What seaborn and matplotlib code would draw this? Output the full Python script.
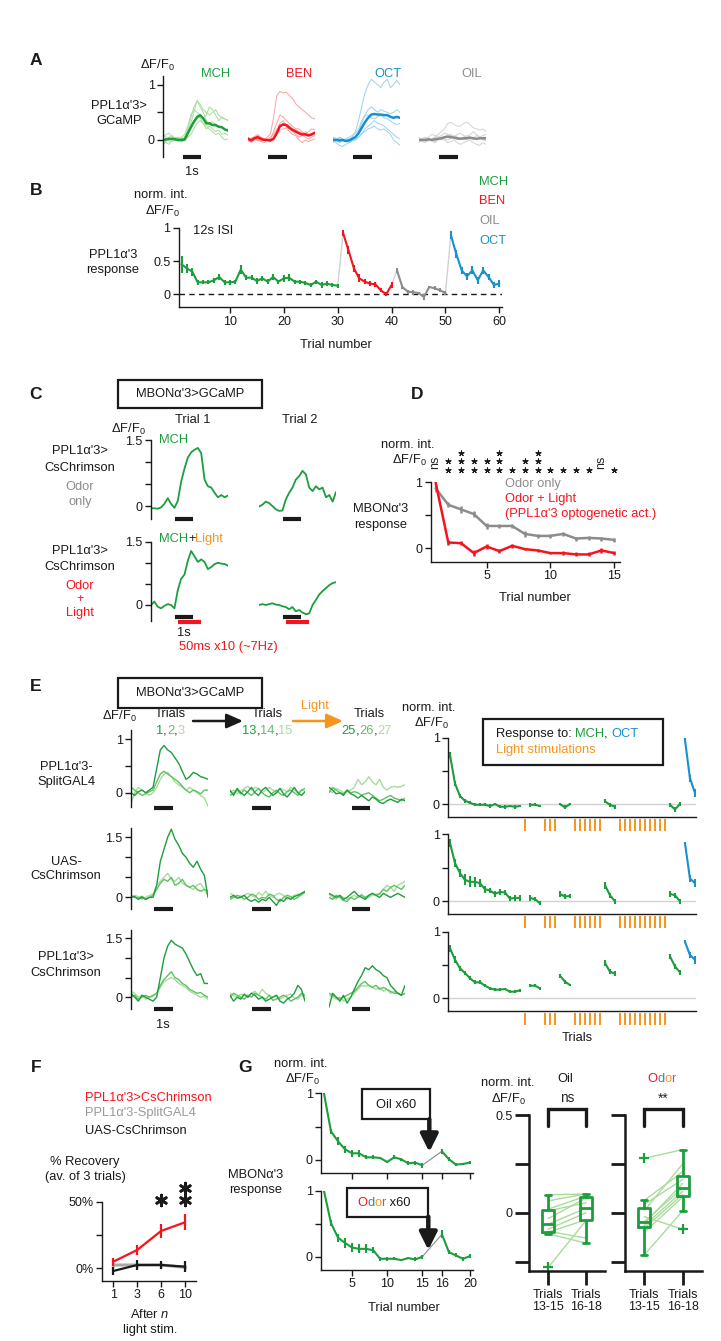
import numpy as np
import pandas as pd
import matplotlib
matplotlib.use("Agg")
import matplotlib.pyplot as plt
import seaborn as sns
from matplotlib.patches import Rectangle

# ---------------- data ----------------
# A: PPL1a'3 > GCaMP traces (mean + single flies)
mch_A_mean = [0, 0.01, 0.02, 0.02, 0.01, 0, 0, 0.01, 0.12, 0.23, 0.33, 0.41, 0.45, 0.39, 0.3, 0.3, 0.27, 0.27, 0.24, 0.23, 0.19, 0.17]
mch_A_flies = [
    [0.05, 0.1, 0.12, 0.05, 0.0, -0.02, 0.02, 0.05, 0.2, 0.4, 0.6, 0.7, 0.65, 0.55, 0.5, 0.45, 0.5, 0.55, 0.45, 0.4, 0.38, 0.35],
    [-0.05, 0.0, 0.05, 0.08, 0.02, -0.03, 0.0, 0.02, 0.15, 0.3, 0.5, 0.72, 0.6, 0.5, 0.35, 0.3, 0.33, 0.28, 0.25, 0.22, 0.2, 0.15],
    [0.1, 0.05, -0.02, 0.0, 0.03, 0.05, -0.04, 0.0, 0.08, 0.2, 0.35, 0.45, 0.4, 0.3, 0.2, 0.25, 0.2, 0.15, 0.18, 0.1, 0.12, 0.08],
    [0.0, -0.05, -0.08, 0.02, 0.05, 0.0, 0.03, -0.02, 0.05, 0.1, 0.2, 0.3, 0.35, 0.3, 0.25, 0.2, 0.15, 0.1, 0.12, 0.05, 0.0, 0.02],
    [-0.1, -0.02, 0.03, -0.03, 0.0, 0.02, 0.05, 0.1, 0.25, 0.45, 0.55, 0.5, 0.45, 0.4, 0.45, 0.6, 0.55, 0.45, 0.35, 0.42, 0.38, 0.36],
]
ben_A_mean = [0.02, -0.01, 0.03, 0.05, 0.02, 0.0, 0.0, -0.01, 0.02, 0.12, 0.25, 0.28, 0.27, 0.22, 0.18, 0.15, 0.12, 0.1, 0.1, 0.08, 0.1, 0.13]
ben_A_flies = [
    [0.0, 0.02, 0.05, 0.0, -0.03, 0.0, 0.05, 0.1, 0.4, 0.8, 0.88, 0.85, 0.87, 0.8, 0.75, 0.65, 0.6, 0.55, 0.5, 0.45, 0.4, 0.38],
    [0.05, 0.02, 0.0, 0.08, 0.05, 0.0, -0.02, 0.0, 0.15, 0.3, 0.45, 0.42, 0.35, 0.3, 0.25, 0.2, 0.2, 0.15, 0.1, 0.15, 0.2, 0.18],
    [-0.03, 0.0, 0.02, -0.02, 0.0, 0.03, 0.0, -0.03, 0.05, 0.15, 0.3, 0.35, 0.25, 0.2, 0.15, 0.1, 0.05, 0.08, 0.05, 0.02, 0.05, 0.08],
    [0.02, -0.05, 0.0, 0.02, -0.02, -0.05, 0.0, 0.02, 0.0, 0.1, 0.18, 0.2, 0.22, 0.15, 0.1, 0.08, 0.0, -0.05, 0.0, -0.03, 0.0, 0.02],
    [0.0, 0.03, 0.06, 0.1, 0.05, 0.02, 0.0, 0.05, 0.1, 0.2, 0.25, 0.3, 0.28, 0.25, 0.2, 0.18, 0.15, 0.12, 0.15, 0.1, 0.12, 0.15],
]
oct_A_mean = [0.0, 0.0, -0.01, 0.0, -0.02, -0.01, 0.02, 0.05, 0.12, 0.22, 0.32, 0.4, 0.46, 0.47, 0.46, 0.46, 0.45, 0.45, 0.42, 0.4, 0.42, 0.4]
oct_A_flies = [
    [0.02, 0.0, -0.05, 0.0, -0.03, 0.0, 0.05, 0.15, 0.35, 0.6, 0.85, 1.0, 1.1, 1.05, 1.0, 0.95, 1.05, 1.1, 0.95, 1.0, 1.08, 1.0],
    [-0.05, 0.0, 0.05, 0.02, -0.02, -0.05, 0.0, 0.05, 0.15, 0.3, 0.45, 0.55, 0.6, 0.55, 0.5, 0.55, 0.52, 0.5, 0.48, 0.5, 0.55, 0.5],
    [0.05, 0.03, 0.0, -0.02, 0.0, 0.02, 0.0, 0.0, 0.05, 0.1, 0.2, 0.25, 0.3, 0.35, 0.3, 0.28, 0.25, 0.2, 0.15, 0.1, 0.05, 0.02],
    [0.0, -0.05, -0.1, -0.12, -0.08, -0.05, -0.02, 0.0, 0.05, 0.12, 0.15, 0.2, 0.22, 0.25, 0.2, 0.18, 0.2, 0.15, 0.1, 0.0, -0.05, -0.1],
    [0.02, 0.0, 0.03, 0.0, 0.02, 0.05, 0.08, 0.12, 0.2, 0.35, 0.45, 0.45, 0.4, 0.38, 0.42, 0.45, 0.4, 0.38, 0.35, 0.3, 0.28, 0.3],
]
oil_A_mean = [0.0, 0.0, 0.0, 0.01, 0.0, 0.01, 0.02, 0.03, 0.05, 0.06, 0.05, 0.04, 0.03, 0.02, 0.03, 0.03, 0.04, 0.03, 0.02, 0.03, 0.03, 0.03]
oil_A_flies = [
    [0.0, 0.02, 0.05, 0.03, 0.0, 0.05, 0.1, 0.15, 0.2, 0.3, 0.32, 0.28, 0.25, 0.25, 0.3, 0.32, 0.28, 0.22, 0.2, 0.18, 0.2, 0.15],
    [-0.05, 0.0, 0.02, 0.05, 0.1, 0.08, 0.05, 0.08, 0.12, 0.1, 0.08, 0.05, 0.1, 0.12, 0.08, 0.05, 0.1, 0.15, 0.1, 0.05, 0.08, 0.1],
    [0.02, -0.03, -0.05, 0.0, -0.02, -0.05, 0.0, 0.02, 0.0, -0.05, -0.03, 0.0, -0.05, -0.08, -0.05, -0.02, 0.0, -0.05, -0.08, -0.1, -0.05, -0.08],
    [0.0, 0.02, 0.0, -0.02, 0.02, 0.05, 0.02, 0.0, 0.05, 0.08, 0.1, 0.05, 0.0, 0.02, 0.05, 0.08, 0.05, 0.0, 0.02, 0.05, 0.0, -0.02],
    [0.05, 0.0, -0.02, 0.02, 0.0, -0.03, 0.03, 0.05, 0.02, 0.0, 0.03, 0.08, 0.05, 0.03, 0.0, 0.02, 0.05, 0.03, 0.08, 0.05, 0.02, 0.0],
]

# B: 60 trials, 12s ISI
mch_B = [0.45, 0.39, 0.34, 0.18, 0.18, 0.18, 0.21, 0.26, 0.18, 0.18, 0.19, 0.37, 0.25, 0.25, 0.2,
         0.24, 0.19, 0.26, 0.19, 0.24, 0.25, 0.19, 0.19, 0.17, 0.14, 0.19, 0.14, 0.16, 0.14, 0.13]
mch_B_err = [0.13, 0.07, 0.06, 0.04, 0.03, 0.03, 0.04, 0.04, 0.04, 0.04, 0.03, 0.07, 0.04, 0.04, 0.04,
             0.04, 0.04, 0.05, 0.03, 0.05, 0.05, 0.03, 0.03, 0.03, 0.03, 0.03, 0.04, 0.04, 0.03, 0.03]
ben_B = [0.92, 0.66, 0.39, 0.24, 0.19, 0.16, 0.15, 0.06, 0.0, 0.14]
ben_B_err = [0.05, 0.06, 0.05, 0.06, 0.04, 0.04, 0.04, 0.03, 0.03, 0.05]
oil_B = [0.36, 0.11, 0.04, 0.03, 0.02, -0.04, 0.11, 0.09, 0.06, 0.02]
oil_B_err = [0.04, 0.03, 0.03, 0.04, 0.02, 0.04, 0.02, 0.03, 0.03, 0.03]
oct_B = [0.89, 0.61, 0.36, 0.27, 0.36, 0.21, 0.36, 0.26, 0.14, 0.16]
oct_B_err = [0.06, 0.06, 0.05, 0.05, 0.06, 0.05, 0.05, 0.05, 0.05, 0.05]

# C: single traces, MBONa'3 > GCaMP
c_odor_trial1 = [-0.05, -0.05, -0.06, -0.03, 0.05, 0.18, 0.05, -0.04, 0.12, 0.55, 0.85, 1.1, 1.22, 1.28, 1.32, 1.2, 0.6, 0.45, 0.42, 0.3, 0.2, 0.25, 0.2, 0.24]
c_odor_trial2 = [-0.01, 0.03, 0.1, 0.07, 0.0, -0.07, -0.11, -0.1, 0.15, 0.3, 0.42, 0.6, 0.68, 0.8, 0.72, 0.42, 0.34, 0.45, 0.38, 0.42, 0.2, 0.25, 0.1, 0.32]
c_light_trial1 = [0.0, 0.08, -0.04, -0.08, -0.02, 0.02, 0.0, -0.08, 0.35, 0.62, 0.72, 1.05, 1.28, 1.15, 1.02, 1.08, 1.02, 0.85, 0.9, 0.97, 1.0, 0.98, 0.97, 0.93]
c_light_trial2 = [0.0, 0.02, 0.0, 0.02, 0.04, 0.01, 0.0, -0.03, -0.05, -0.1, -0.05, -0.15, -0.12, -0.18, -0.22, -0.2, 0.0, 0.12, 0.25, 0.33, 0.4, 0.47, 0.52, 0.54]

# D: normalised response over 15 trials
d_trials = list(range(1, 16))
d_odor_only = [0.91, 0.66, 0.59, 0.52, 0.34, 0.34, 0.34, 0.22, 0.19, 0.19, 0.22, 0.15, 0.16, 0.15, 0.13]
d_odor_only_err = [0.05, 0.04, 0.05, 0.05, 0.04, 0.03, 0.03, 0.04, 0.03, 0.03, 0.03, 0.03, 0.03, 0.03, 0.03]
d_odor_light = [1.0, 0.09, 0.08, -0.07, 0.03, -0.04, 0.04, -0.01, -0.03, -0.07, -0.07, -0.09, -0.09, -0.03, -0.07]
d_odor_light_err = [0.0, 0.04, 0.03, 0.05, 0.04, 0.03, 0.03, 0.02, 0.02, 0.02, 0.03, 0.03, 0.03, 0.04, 0.03]
d_signif = ['ns', '**', '***', '**', '**', '***', '*', '**', '***', '*', '*', '*', '*', 'ns', '*']

# E left: trials (1,2,3), (13,14,15), (25,26,27) per genotype
e_split = [
    [[0.0, -0.05, 0.02, 0.05, 0.0, 0.05, 0.1, 0.45, 0.8, 0.88, 0.8, 0.75, 0.65, 0.55, 0.4, 0.25, 0.3, 0.38, 0.35, 0.3, 0.28, 0.25],
     [0.1, 0.05, 0.0, -0.05, -0.02, 0.02, 0.05, 0.2, 0.35, 0.4, 0.35, 0.3, 0.25, 0.2, 0.12, 0.05, 0.0, 0.05, 0.02, -0.02, 0.05, 0.05],
     [-0.2, 0.0, 0.1, 0.05, 0.0, -0.05, 0.0, 0.1, 0.25, 0.35, 0.38, 0.3, 0.2, 0.15, 0.1, 0.05, 0.1, 0.05, 0.0, -0.05, -0.1, -0.25]],
    [[0.05, -0.05, 0.08, 0.0, -0.05, 0.02, 0.1, 0.0, -0.05, 0.05, 0.1, 0.02, -0.05, 0.0, 0.08, -0.02, -0.08, 0.0, 0.1, 0.0, -0.05, 0.02],
     [-0.05, 0.0, 0.05, -0.02, 0.05, 0.0, -0.05, 0.02, 0.08, 0.0, -0.05, -0.08, 0.0, 0.05, -0.02, -0.05, 0.02, 0.05, 0.0, -0.05, 0.05, 0.08],
     [0.0, 0.05, -0.02, 0.03, 0.08, 0.12, 0.05, 0.1, 0.08, 0.0, 0.05, 0.1, 0.05, 0.0, 0.08, 0.05, 0.02, 0.1, 0.05, 0.0, 0.05, 0.03]],
    [[0.1, 0.05, -0.02, 0.0, -0.05, 0.05, -0.02, -0.05, -0.1, -0.05, -0.1, -0.15, -0.08, -0.12, -0.18, -0.2, -0.15, -0.12, -0.15, -0.18, -0.12, -0.15],
     [0.0, 0.1, 0.05, 0.0, -0.02, 0.05, 0.0, 0.02, 0.0, -0.05, -0.02, 0.0, -0.05, -0.1, -0.15, -0.12, -0.08, -0.05, -0.1, -0.12, -0.15, -0.1],
     [0.05, 0.0, 0.08, 0.05, 0.0, 0.02, 0.05, 0.1, 0.25, 0.15, 0.2, 0.3, 0.2, 0.15, 0.25, 0.1, 0.05, 0.1, 0.12, 0.1, 0.12, 0.15]],
]
e_uas = [
    [[0.0, 0.02, -0.05, 0.0, -0.05, 0.0, 0.0, 0.3, 0.9, 1.2, 1.5, 1.7, 1.45, 1.3, 1.1, 1.0, 0.85, 0.75, 0.9, 0.7, 0.55, 0.0],
     [0.05, 0.0, -0.02, 0.03, -0.05, 0.0, 0.05, 0.2, 0.35, 0.45, 0.4, 0.5, 0.3, 0.35, 0.45, 0.3, 0.25, 0.3, 0.2, 0.15, 0.2, 0.15],
     [0.0, 0.05, 0.02, -0.05, 0.0, 0.05, 0.08, 0.3, 0.4, 0.5, 0.6, 0.45, 0.4, 0.5, 0.35, 0.3, 0.25, 0.2, 0.3, 0.35, 0.2, 0.05]],
    [[0.0, 0.05, -0.02, 0.0, 0.05, -0.05, -0.1, -0.05, -0.12, -0.05, -0.08, 0.0, -0.1, -0.2, -0.05, -0.1, 0.0, -0.05, 0.02, 0.05, 0.1, 0.15],
     [-0.05, 0.0, 0.05, 0.02, -0.05, 0.0, 0.08, 0.05, -0.05, 0.0, -0.02, 0.08, 0.05, -0.05, -0.1, 0.0, 0.05, 0.02, -0.05, 0.0, 0.08, 0.12],
     [0.1, 0.05, 0.0, 0.03, 0.05, 0.1, 0.05, 0.0, 0.12, 0.05, 0.15, 0.05, 0.0, 0.08, 0.1, 0.05, -0.05, 0.0, 0.05, 0.08, 0.05, 0.15]],
    [[0.1, 0.05, 0.0, 0.05, -0.05, 0.0, 0.08, 0.15, 0.05, 0.0, -0.05, 0.05, 0.1, 0.05, 0.0, 0.1, 0.05, 0.0, 0.05, 0.1, 0.05, 0.0],
     [0.0, -0.05, 0.05, 0.0, -0.08, -0.1, 0.0, -0.05, 0.0, 0.05, 0.0, 0.05, 0.1, 0.05, 0.08, 0.2, 0.15, 0.25, 0.3, 0.25, 0.2, 0.3],
     [0.08, 0.0, -0.05, 0.05, 0.0, -0.05, 0.0, 0.05, 0.0, 0.08, -0.02, 0.0, 0.05, 0.08, 0.1, 0.2, 0.3, 0.25, 0.15, 0.3, 0.35, 0.4]],
]
e_chrim = [
    [[0.1, 0.0, -0.1, 0.05, 0.0, -0.05, -0.1, 0.0, 0.5, 1.0, 1.3, 1.45, 1.35, 1.3, 1.25, 1.1, 0.9, 0.7, 0.55, 0.6, 0.35, 0.35],
     [0.0, 0.05, -0.05, 0.0, 0.05, 0.0, 0.05, 0.1, 0.3, 0.45, 0.55, 0.65, 0.5, 0.45, 0.35, 0.3, 0.2, 0.15, 0.1, 0.12, 0.05, 0.0],
     [0.15, 0.1, 0.0, 0.05, -0.05, 0.0, 0.02, 0.1, 0.25, 0.4, 0.45, 0.5, 0.45, 0.35, 0.3, 0.25, 0.15, 0.1, 0.05, 0.0, 0.02, -0.05]],
    [[0.05, -0.1, 0.0, -0.05, 0.08, 0.0, 0.1, 0.05, -0.05, 0.0, -0.1, -0.05, 0.0, 0.05, -0.1, -0.15, -0.05, 0.0, 0.1, 0.3, 0.2, -0.1],
     [0.0, 0.1, 0.05, 0.0, -0.05, 0.05, 0.0, 0.1, 0.05, 0.0, -0.05, 0.05, -0.08, -0.05, 0.0, 0.05, 0.0, -0.1, -0.05, 0.0, 0.1, 0.05],
     [0.1, 0.05, 0.0, 0.08, 0.05, 0.0, 0.1, 0.15, 0.05, 0.2, 0.1, 0.05, 0.0, 0.05, -0.05, 0.0, 0.05, 0.08, -0.02, -0.05, 0.05, 0.0]],
    [[-0.25, 0.1, 0.0, -0.1, 0.05, -0.15, 0.0, 0.2, 0.4, 0.55, 0.75, 0.7, 0.8, 0.7, 0.65, 0.55, 0.5, 0.3, 0.2, 0.1, 0.05, 0.3],
     [0.1, 0.05, 0.0, -0.05, 0.0, 0.05, 0.1, 0.15, 0.25, 0.35, 0.4, 0.3, 0.25, 0.3, 0.2, 0.25, 0.2, 0.15, 0.1, 0.1, 0.05, 0.1],
     [0.05, 0.0, -0.05, 0.0, -0.1, -0.05, 0.0, 0.1, 0.2, 0.3, 0.28, 0.3, 0.25, 0.2, 0.25, 0.15, 0.2, 0.1, 0.15, 0.1, 0.05, 0.1]],
]

# E right: trial sequence with light stimulations
mch_blocks = [list(range(1, 16)), [17, 18, 19], [23, 24, 25], [32, 33, 34], [45, 46, 47]]
oct_block = [48, 49, 50]
light_trials = [16, 20, 21, 22, 26, 27, 28, 29, 30, 31, 35, 36, 37, 38, 39, 40, 41, 42, 43, 44]
e_split_mch = [0.74, 0.31, 0.12, 0.05, 0.02, -0.01, -0.01, -0.01, -0.03, 0.0, -0.04, -0.04, -0.03, -0.04, -0.03,
               -0.01, -0.01, -0.03, 0.0, -0.05, 0.0, 0.04, -0.01, -0.04, -0.01, -0.08, 0.0]
e_split_err = [0.05, 0.04, 0.03, 0.03, 0.02, 0.02, 0.02, 0.02, 0.03, 0.02, 0.02, 0.03, 0.02, 0.03, 0.02,
               0.03, 0.02, 0.02, 0.02, 0.03, 0.02, 0.03, 0.03, 0.03, 0.03, 0.04, 0.03]
e_split_oct = [0.97, 0.39, 0.17]
e_uas_mch = [0.87, 0.57, 0.42, 0.32, 0.29, 0.29, 0.27, 0.18, 0.16, 0.11, 0.14, 0.13, 0.04, 0.05, 0.05,
             0.05, 0.03, -0.03, 0.11, 0.07, 0.08, 0.24, 0.09, 0.0, 0.11, 0.09, 0.0]
e_uas_err = [0.06, 0.06, 0.06, 0.08, 0.08, 0.07, 0.06, 0.05, 0.04, 0.05, 0.04, 0.04, 0.04, 0.04, 0.04,
             0.04, 0.03, 0.03, 0.04, 0.04, 0.03, 0.05, 0.04, 0.04, 0.04, 0.04, 0.04]
e_uas_oct = [0.87, 0.34, 0.27]
e_chrim_mch = [0.75, 0.58, 0.45, 0.38, 0.3, 0.24, 0.24, 0.19, 0.15, 0.13, 0.13, 0.14, 0.1, 0.1, 0.12,
               0.19, 0.19, 0.15, 0.34, 0.25, 0.2, 0.53, 0.4, 0.37, 0.63, 0.48, 0.39]
e_chrim_err = [0.05, 0.05, 0.04, 0.03, 0.03, 0.03, 0.03, 0.02, 0.02, 0.02, 0.02, 0.02, 0.02, 0.02, 0.02,
               0.02, 0.02, 0.02, 0.03, 0.03, 0.02, 0.04, 0.04, 0.04, 0.04, 0.04, 0.04]
e_chrim_oct = [0.85, 0.65, 0.58]
e_oct_err = [0.02, 0.05, 0.06]

# F: % recovery after n light stimulations
f_n = ['1', '3', '6', '10']
f_chrim = [5, 13.75, 28, 34.5]
f_chrim_err = [3, 4, 5, 6]
f_split = [2.5, 2.5, 2.5, 0.75]
f_split_err = [1.5, 1.5, 1.5, 1.5]
f_uas = [-2, 2.5, 2.5, 1.25]
f_uas_err = [3, 4, 3, 4]
f_stars = [0, 0, 1, 2]

# G left: oil x60 / odor x60 between trial 15 and 16
g_trials = list(range(1, 21))
g_oil = [1.0, 0.43, 0.28, 0.16, 0.1, 0.1, 0.04, 0.04, 0.03, -0.03, 0.04, 0.01, -0.05, -0.04, -0.08,
         0.13, 0.01, -0.07, -0.06, -0.04]
g_oil_err = [0, 0.04, 0.06, 0.05, 0.05, 0.05, 0.03, 0.03, 0.02, 0.02, 0.03, 0.02, 0.03, 0.03, 0.04,
             0.04, 0.03, 0.02, 0.02, 0.02]
g_odor = [1.0, 0.51, 0.29, 0.21, 0.14, 0.12, 0.12, 0.1, -0.03, -0.03, -0.03, -0.05, -0.02, -0.04, 0.0,
          0.34, 0.07, 0.02, -0.03, 0.01]
g_odor_err = [0, 0.05, 0.06, 0.07, 0.07, 0.07, 0.07, 0.05, 0.03, 0.03, 0.02, 0.02, 0.02, 0.03, 0.03,
              0.06, 0.03, 0.03, 0.03, 0.03]

# G right: paired flies, trials 13-15 vs 16-18
oil_pre = [0.092, 0.06, 0.018, 0.01, -0.03, -0.059, -0.085, -0.095, -0.1, -0.108, -0.28]
oil_post = [0.095, 0.097, 0.085, 0.05, 0.075, 0.023, 0.0, -0.13, -0.036, -0.156, -0.04]
odor_pre = [0.278, 0.0625, 0.042, 0.01, -0.02, -0.047, -0.055, -0.066, -0.08, -0.1, -0.217]
odor_post = [0.323, 0.21, 0.17, 0.25, -0.085, 0.127, 0.15, 0.11, 0.094, 0.08, 0.01]
g_conds = ['Trials\n13-15', 'Trials\n16-18']

# ---------------- style ----------------
GREEN = '#1c9e3e'
LGREEN = '#a9dc9c'
MGREEN = '#5fc163'
RED = '#f5141e'
LRED = '#f6a3a3'
BLUE = '#1890cc'
LBLUE = '#9dd2ee'
GRAY = '#8c8c8c'
LGRAY = '#d2d2d2'
ORANGE = '#f7941d'
PURPLE = '#8e5bb5'
FS = 9.3
TFS = 9.0
LFS = 12.5

W, H = 721, 1341
sns.set_theme(style="ticks")
plt.rcParams['font.family'] = ['Liberation Sans', 'DejaVu Sans']
plt.rcParams['mathtext.fontset'] = 'custom'
plt.rcParams['mathtext.rm'] = 'Liberation Sans'
plt.rcParams['mathtext.it'] = 'Liberation Sans:italic'
plt.rcParams['font.size'] = FS

fig = plt.figure(figsize=(W / 100, H / 100), dpi=100)
fig.patch.set_facecolor('white')

# overlay in reference pixel coordinates for labels / frames / arrows
ov = fig.add_axes([0, 0, 1, 1])
ov.set_xlim(0, W)
ov.set_ylim(H, 0)
ov.axis('off')
ov.set_zorder(10)

DF = 'ΔF/F$_0$'
A3 = "PPL1\u03b1'3"


def px_axes(x0, y0, x1, y1):
    return fig.add_axes([x0 / W, 1 - y1 / H, (x1 - x0) / W, (y1 - y0) / H])


def clean(ax, left=True, bottom=True, tl=4, tw=1.0, sw=1.0):
    ax.set_facecolor('none')
    ax.spines['top'].set_visible(False)
    ax.spines['right'].set_visible(False)
    ax.spines['left'].set_visible(left)
    ax.spines['bottom'].set_visible(bottom)
    for s in ax.spines.values():
        s.set_linewidth(sw)
        s.set_color('k')
    ax.tick_params(direction='out', length=tl, width=tw, labelsize=TFS, pad=2, colors='k')
    if not left:
        ax.set_yticks([])
    if not bottom:
        ax.set_xticks([])
    ax.set_xlabel('')
    ax.set_ylabel('')


def txt(x, y, s, ha='center', color='k', size=FS, weight='normal', **kw):
    return ov.text(x, y, s, ha=ha, va='center', color=color, fontsize=size, fontweight=weight, **kw)


def multi(x, y, parts, size=FS):
    t = ov.text(x, y, parts[0][0], color=parts[0][1], ha='left', va='center', fontsize=size)
    for s, c in parts[1:]:
        t = ov.annotate(s, xycoords=t, xy=(1, 0), va='bottom', ha='left', color=c, fontsize=size)


def frame(x0, y0, x1, y1, lw=1.6):
    ov.add_patch(Rectangle((x0, y0), x1 - x0, y1 - y0, fill=False, ec='k', lw=lw))


def stim_bar(ax, on, off, yfrac, color='k', lw=3):
    ax.plot([on, off], [yfrac, yfrac], transform=ax.get_xaxis_transform(), color=color,
            lw=lw, solid_capstyle='butt', clip_on=False)


def yticks_sparse(ax, ticks, labels):
    ax.set_yticks(ticks)
    ax.set_yticklabels(labels)


def mean_err(ax, x, y, e, color, lw=1.5):
    sns.lineplot(x=x, y=y, ax=ax, color=color, lw=lw, legend=False)
    y = np.asarray(y)
    e = np.asarray(e)
    ax.vlines(x, y - e, y + e, colors=color, lw=lw)


def star_marks(ax, xs, counts, y0, dy, size, lw, marker=(6, 2, 0)):
    # significance asterisks drawn as markers above the axes
    for x, n in zip(xs, counts):
        for k in range(n):
            ax.scatter([x], [y0 + dy * k], marker=marker, s=size, linewidths=lw, color='k',
                       transform=ax.get_xaxis_transform(), clip_on=False, zorder=5)


# ---------------- panel A ----------------
txt(36, 60, 'A', size=LFS, weight='bold')
txt(157, 65, DF)
txt(119, 106, A3 + '>')
txt(119, 121, 'GCaMP')
tA = np.linspace(0, 3.6, 22)
A_sets = [('MCH', mch_A_mean, mch_A_flies, GREEN, LGREEN, (163, 228), 216),
          ('BEN', ben_A_mean, ben_A_flies, RED, LRED, (248, 315), 299),
          ('OCT', oct_A_mean, oct_A_flies, BLUE, LBLUE, (333, 400), 388),
          ('OIL', oil_A_mean, oil_A_flies, GRAY, LGRAY, (419, 486), 472)]
for i, (name, mean, flies, col, lcol, (x0, x1), tx) in enumerate(A_sets):
    ax = px_axes(x0, 76, x1, 157)
    for f in flies:
        ax.plot(tA, f, color=lcol, lw=0.7)
    sns.lineplot(x=tA, y=mean, ax=ax, color=col, lw=1.8, legend=False)
    ax.set_xlim(0, 3.6)
    ax.set_ylim(-0.31, 1.16)
    stim_bar(ax, 1.1, 2.1, 0.0)
    clean(ax, left=(i == 0), bottom=False)
    if i == 0:
        yticks_sparse(ax, [0, 0.5, 1], ['0', '', '1'])
    txt(tx, 74, name, color=col)
txt(192, 172, '1s')

# ---------------- panel B ----------------
txt(36, 190, 'B', size=LFS, weight='bold')
txt(161, 195, 'norm. int.')
txt(162, 211, DF)
txt(193, 231, '12s ISI', ha='left')
txt(113, 255, "PPL1\u03b1'3")
txt(113, 270, 'response')
axB = px_axes(178.7, 227.7, 501.7, 307.3)
B_sets = [(list(range(1, 31)), mch_B, mch_B_err, GREEN),
          (list(range(31, 41)), ben_B, ben_B_err, RED),
          (list(range(41, 51)), oil_B, oil_B_err, GRAY),
          (list(range(51, 61)), oct_B, oct_B_err, BLUE)]
for k in range(len(B_sets) - 1):
    a, b = B_sets[k], B_sets[k + 1]
    axB.plot([a[0][-1], b[0][0]], [a[1][-1], b[1][0]], color=LGRAY, lw=1)
for tr, v, e, c in B_sets:
    mean_err(axB, tr, v, e, c)
axB.axhline(0, color='k', lw=1, ls=(0, (4, 3)), zorder=0)
axB.set_xlim(0.48, 60.44)
axB.set_ylim(-0.195, 1.0)
clean(axB)
axB.set_xticks([10, 20, 30, 40, 50, 60])
yticks_sparse(axB, [0, 0.5, 1], ['0', '0.5', '1'])
for lab, c, y in [('MCH', GREEN, 182), ('BEN', RED, 201), ('OIL', GRAY, 221), ('OCT', BLUE, 241)]:
    txt(479, y, lab, ha='left', color=c)
txt(336, 345, 'Trial number')

# ---------------- panel C ----------------
txt(36, 394, 'C', size=LFS, weight='bold')
frame(118, 380, 262, 408)
txt(190, 394, "MBON\u03b1'3>GCaMP")
txt(193, 420, 'Trial 1')
txt(300, 420, 'Trial 2')
txt(128, 429, DF)
txt(80, 451, A3 + '>')
txt(80, 468, 'CsChrimson')
txt(80, 487, 'Odor', color=GRAY)
txt(80, 502, 'only', color=GRAY)
txt(80, 551, A3 + '>')
txt(80, 567, 'CsChrimson')
txt(80, 586, 'Odor', color=RED)
txt(80, 599, '+', color=RED)
txt(80, 613, 'Light', color=RED)
txt(159, 440, 'MCH', ha='left', color=GREEN)
multi(159, 539, [('MCH', GREEN), ('+', 'k'), ('Light', ORANGE)])
txt(184, 633, '1s')
txt(228, 647, '50ms x10 (~7Hz)', color=RED)
tC = np.linspace(0, 4.3, 24)
C_rows = [((440, 519.3), (-0.3, 1.5), c_odor_trial1, c_odor_trial2, False),
          ((541.7, 621), (-0.38, 1.5), c_light_trial1, c_light_trial2, True)]
for (y0, y1), yl, tr1, tr2, light in C_rows:
    for j, ((x0, x1), tr) in enumerate([((151, 228), tr1), ((259, 336), tr2)]):
        ax = px_axes(x0, y0, x1, y1)
        ax.plot(tC, tr, color=GREEN, lw=1.3)
        ax.set_xlim(0, 4.3)
        ax.set_ylim(*yl)
        if light:
            stim_bar(ax, 1.34, 2.34, 0.05)
            stim_bar(ax, 1.5, 2.8, -0.015, color=RED)
        else:
            stim_bar(ax, 1.34, 2.34, 0.0)
        clean(ax, left=(j == 0), bottom=False)
        if j == 0:
            yticks_sparse(ax, [0, 0.5, 1, 1.5], ['0', '', '', '1.5'])

# ---------------- panel D ----------------
txt(417, 394, 'D', size=LFS, weight='bold')
txt(408, 445, 'norm. int.')
txt(409, 460, DF)
txt(381, 509, "MBON\u03b1'3")
txt(381, 525, 'response')
axD = px_axes(430.7, 482.3, 620, 561.7)
mean_err(axD, d_trials, d_odor_only, d_odor_only_err, GRAY, lw=1.8)
mean_err(axD, d_trials, d_odor_light, d_odor_light_err, RED, lw=1.8)
axD.set_xlim(0.62, 15.45)
axD.set_ylim(-0.2, 1.0)
clean(axD)
axD.set_xticks([5, 10, 15])
yticks_sparse(axD, [0, 0.5, 1], ['0', '', '1'])
d_counts = [0 if s == 'ns' else len(s) for s in d_signif]
star_marks(axD, d_trials, d_counts, 1.155, 0.11, 13, 0.8, marker=(5, 2, 0))
for t, s in zip(d_trials, d_signif):
    if s == 'ns':
        axD.text(t, 1.25, 'ns', rotation=90, ha='center', va='center', fontsize=TFS,
                 transform=axD.get_xaxis_transform())
txt(505, 484, 'Odor only', ha='left', color=GRAY)
txt(505, 499, 'Odor + Light', ha='left', color=RED)
txt(505, 514, "(PPL1\u03b1'3 optogenetic act.)", ha='left', color=RED)
txt(535, 598, 'Trial number')

# ---------------- panel E left ----------------
txt(36, 686, 'E', size=LFS, weight='bold')
frame(118, 678, 262, 708)
txt(190, 693, "MBON\u03b1'3>GCaMP")
txt(119, 716, DF)
E_shades = [GREEN, MGREEN, LGREEN]
for cx, left, nums in [(170, 156, ['1', '2', '3']), (267, 242, ['13', '14', '15']), (369, 341, ['25', '26', '27'])]:
    txt(cx, 714, 'Trials')
    multi(left, 731, [(nums[0], E_shades[0]), (',', 'k'), (nums[1], E_shades[1]), (',', 'k'), (nums[2], E_shades[2])])
ov.annotate('', xy=(243, 721), xytext=(193, 721),
            arrowprops=dict(arrowstyle='-|>,head_length=0.9,head_width=0.4', color='k', lw=1.8,
                            shrinkA=0, shrinkB=0, mutation_scale=11))
ov.annotate('', xy=(343, 721), xytext=(293, 721),
            arrowprops=dict(arrowstyle='-|>,head_length=0.9,head_width=0.4', color=ORANGE, lw=1.8,
                            shrinkA=0, shrinkB=0, mutation_scale=11))
txt(315, 706, 'Light', color=ORANGE)
tE = np.linspace(0, 4.05, 22)
E_rows = [(e_split, (730, 806.7), (-0.26, 1.17), [0, 0.5, 1], ['0', '', '1'], ('PPL1\u03b1\'3-', 'SplitGAL4'), (767, 782), -0.017),
          (e_uas, (828, 909), (-0.29, 1.73), [0, 0.5, 1, 1.5], ['0', '', '', '1.5'], ('UAS-', 'CsChrimson'), (862, 876), 0.0),
          (e_chrim, (930, 1009), (-0.3, 1.71), [0, 0.5, 1, 1.5], ['0', '', '', '1.5'], (A3 + '>', 'CsChrimson'), (957, 973), 0.0)]
E_cols = [(131, 208), (230, 305), (329, 405)]
for groups, (y0, y1), yl, yt, ylab, names, (ly0, ly1), byf in E_rows:
    for j, ((x0, x1), traces) in enumerate(zip(E_cols, groups)):
        ax = px_axes(x0, y0, x1, y1)
        for tr, c in zip(traces[::-1], E_shades[::-1]):
            ax.plot(tE, tr, color=c, lw=1.0)
        ax.set_xlim(0, 4.05)
        ax.set_ylim(*yl)
        stim_bar(ax, 1.2, 2.2, byf)
        clean(ax, left=(j == 0), bottom=False)
        if j == 0:
            yticks_sparse(ax, yt, ylab)
    txt(66, ly0, names[0])
    txt(66, ly1, names[1])
txt(163, 1025, '1s')

# ---------------- panel E right ----------------
txt(429, 708, 'norm. int.')
txt(431, 723, DF)
E_right = [((737.7, 816.7), e_split_mch, e_split_err, e_split_oct),
           ((834.3, 914), e_uas_mch, e_uas_err, e_uas_oct),
           ((931.7, 1011), e_chrim_mch, e_chrim_err, e_chrim_oct)]
for (y0, y1), vals, errs, octv in E_right:
    ax = px_axes(448.3, y0, 695.7, y1)
    ax.axhline(0, color=LGRAY, lw=1, zorder=0)
    k = 0
    for blk in mch_blocks:
        n = len(blk)
        mean_err(ax, blk, vals[k:k + n], errs[k:k + n], GREEN)
        k += n
    mean_err(ax, oct_block, octv, e_oct_err, BLUE)
    ax.vlines(light_trials, -0.03, -0.18, colors=ORANGE, lw=1.4, transform=ax.get_xaxis_transform(),
              clip_on=False)
    ax.set_xlim(0.66, 50.15)
    ax.set_ylim(-0.19, 1.0)
    clean(ax)
    ax.set_xticks([])
    yticks_sparse(ax, [0, 0.5, 1], ['0', '', '1'])
frame(483, 719, 663, 765)
multi(496, 734, [('Response to: ', 'k'), ('MCH', GREEN), (', ', 'k'), ('OCT', BLUE)])
txt(496, 750, 'Light stimulations', ha='left', color=ORANGE)
txt(577, 1038, 'Trials')

# ---------------- panel F ----------------
txt(36, 1068, 'F', size=LFS, weight='bold')
txt(85, 1098, A3 + '>CsChrimson', ha='left', color=RED)
txt(85, 1113, "PPL1\u03b1'3-SplitGAL4", ha='left', color='#9a9a9a')
txt(85, 1131, 'UAS-CsChrimson', ha='left')
txt(85, 1162, '% Recovery')
txt(85, 1177, '(av. of 3 trials)')
axF = px_axes(101.7, 1201.7, 196, 1280.7)
xf = np.arange(len(f_n))
mean_err(axF, xf, f_split, f_split_err, '#aaaaaa', lw=2.2)
mean_err(axF, xf, f_uas, f_uas_err, 'k', lw=1.6)
mean_err(axF, xf, f_chrim, f_chrim_err, RED, lw=1.6)
axF.set_xlim(-0.49, 3.47)
axF.set_ylim(-9.3, 50)
clean(axF)
axF.set_xticks(xf)
axF.set_xticklabels(f_n)
yticks_sparse(axF, [0, 25, 50], ['0%', '', '50%'])
star_marks(axF, xf, f_stars, 1.02, 0.15, 60, 2.0)
txt(150, 1315, 'After $n$')
txt(150, 1330, 'light stim.')

# ---------------- panel G left ----------------
txt(245, 1068, 'G', size=LFS, weight='bold')
txt(301, 1064, 'norm. int.')
txt(302, 1079, DF)
txt(256, 1175, "MBON\u03b1'3")
txt(256, 1190, 'response')
gap = 1.8
g_pos = [t if t <= 15 else t + gap for t in g_trials]
tick_trials = [5, 10, 15, 16, 20]
tick_pos = [t if t <= 15 else t + gap for t in tick_trials]
for (y0, y1), vals, errs, lab in [((1093.3, 1173.3), g_oil, g_oil_err, False),
                                   ((1190.7, 1270), g_odor, g_odor_err, True)]:
    ax = px_axes(321, y0, 473.3, y1)
    ax.plot([g_pos[14], g_pos[15]], [vals[14], vals[15]], color=GRAY, lw=0.8)
    mean_err(ax, g_pos[:15], vals[:15], errs[:15], GREEN)
    mean_err(ax, g_pos[15:], vals[15:], errs[15:], GREEN)
    ax.set_xlim(0.58, 22.27)
    ax.set_ylim(-0.2, 1.0)
    clean(ax)
    ax.set_xticks(tick_pos)
    ax.set_xticklabels([str(t) for t in tick_trials] if lab else [])
    yticks_sparse(ax, [0, 0.5, 1], ['0', '', '1'])
frame(361.7, 1089.3, 430, 1119.3)
txt(396, 1105, 'Oil x60')
frame(346.7, 1187.7, 428.3, 1216.7)
multi(357, 1203, [('O', RED), ('d', BLUE), ('o', ORANGE), ('r', PURPLE), (' x60', 'k')])
for xa, ya0, ya1 in [(429.3, 1119.3, 1152), (428.3, 1216.7, 1250)]:
    ov.annotate('', xy=(xa, ya1), xytext=(xa, ya0),
                arrowprops=dict(arrowstyle='-|>,head_length=0.7,head_width=0.35', color='k', lw=3.2,
                                shrinkA=0, shrinkB=0, mutation_scale=15))
txt(404, 1308, 'Trial number')

# ---------------- panel G right ----------------
txt(508, 1083, 'norm. int.')
txt(508, 1099, DF)
txt(565, 1079, 'Oil')
multi(647, 1079, [('O', RED), ('d', BLUE), ('o', ORANGE), ('r', PURPLE)])
for i, ((x0, x1), pre, post, sig) in enumerate([((529.3, 605), oil_pre, oil_post, 'ns'),
                                                ((625, 702), odor_pre, odor_post, '**')]):
    ax = px_axes(x0, 1115, x1, 1270.7)
    ax.plot(np.array([np.zeros(len(pre)), np.ones(len(post))]), np.array([pre, post]),
            color=LGREEN, lw=1.0, zorder=1)
    dfg = pd.DataFrame({'cond': [g_conds[0]] * len(pre) + [g_conds[1]] * len(post),
                        'val': list(pre) + list(post)})
    sns.boxplot(data=dfg, x='cond', y='val', ax=ax, color=GREEN, fill=False, width=0.32,
                linewidth=2.0, whis=1.5,
                flierprops=dict(marker='+', markeredgecolor=GREEN, markersize=7, markeredgewidth=1.6))
    ax.set_xlim(-0.5, 1.5)
    ax.set_ylim(-0.297, 0.5)
    clean(ax, tl=10, tw=2.0, sw=1.8)
    ax.set_xticks([0, 1])
    ax.set_xticklabels(g_conds, linespacing=1.0)
    ax.tick_params(axis='x', pad=3)
    yticks_sparse(ax, [-0.25, 0, 0.25, 0.5], ['', '0', '', '0.5'] if i == 0 else ['', '', '', ''])
    ax.plot([0, 0, 1, 1], [0.445, 0.53, 0.53, 0.445], color='k', lw=2.4, clip_on=False,
            solid_joinstyle='miter')
    ax.text(0.5, 0.585, sig, ha='center', va='center', fontsize=FS + 0.5)

fig.savefig('out.png', dpi=100)
